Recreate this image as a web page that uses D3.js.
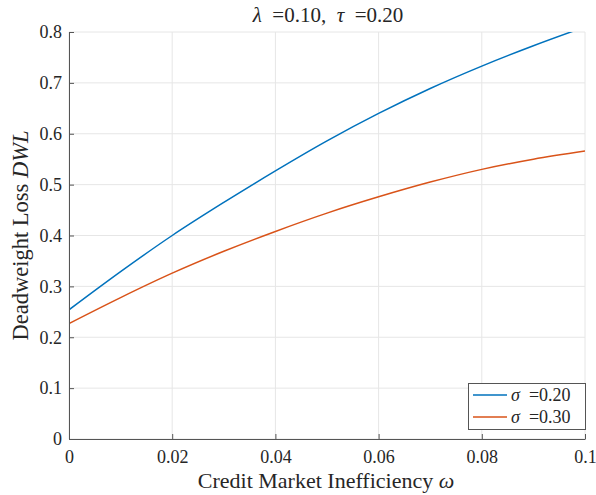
<!DOCTYPE html>
<html><head><meta charset="utf-8">
<script src="https://cdn.jsdelivr.net/npm/d3@7"></script>
<style>
body{margin:0;background:#fff;}
</style></head>
<body><svg id="c" width="596" height="495"></svg>
<script>
const omega = [0, 0.01, 0.02, 0.03, 0.04, 0.05, 0.06, 0.07, 0.08, 0.09, 0.1];
const dwlSigma20 = [0.254, 0.329, 0.400, 0.465, 0.527, 0.586, 0.640, 0.689, 0.733, 0.773, 0.81];
const dwlSigma30 = [0.227, 0.278, 0.326, 0.369, 0.408, 0.444, 0.476, 0.505, 0.530, 0.550, 0.566];
const seriesNames = ["0.20", "0.30"];
const seriesColors = ["#0072BD", "#D95319"];
const xTicks = [0, 0.02, 0.04, 0.06, 0.08, 0.1];
const xTickLabels = ["0", "0.02", "0.04", "0.06", "0.08", "0.1"];
const yTicks = [0, 0.1, 0.2, 0.3, 0.4, 0.5, 0.6, 0.7, 0.8];
const yTickLabels = ["0", "0.1", "0.2", "0.3", "0.4", "0.5", "0.6", "0.7", "0.8"];

const FONT = "Liberation Serif";
const TXT = "#262626";
const svg = d3.select("#c");
const L = 69, R = 585, T = 32, B = 439;
const x = d3.scaleLinear().domain([0, 0.1]).range([L, R]);
const y = d3.scaleLinear().domain([0, 0.8]).range([B, T]);

// grid
const g = svg.append("g");
g.selectAll(".gx").data(xTicks).enter().append("line")
  .attr("x1", d => x(d)).attr("x2", d => x(d)).attr("y1", T).attr("y2", B)
  .attr("stroke", "#e6e6e6").attr("stroke-width", 1);
g.selectAll(".gy").data(yTicks).enter().append("line")
  .attr("y1", d => y(d)).attr("y2", d => y(d)).attr("x1", L).attr("x2", R)
  .attr("stroke", "#e6e6e6").attr("stroke-width", 1);

// clip
svg.append("clipPath").attr("id", "clip").append("rect")
  .attr("x", L).attr("y", T).attr("width", R - L).attr("height", B - T);

const line = d3.line().x(d => x(d[0])).y(d => y(d[1])).curve(d3.curveMonotoneX);
[dwlSigma20, dwlSigma30].forEach((vals, i) => {
  svg.append("path").datum(omega.map((o, j) => [o, vals[j]]))
    .attr("d", line).attr("fill", "none").attr("stroke", seriesColors[i])
    .attr("stroke-width", 1.5).attr("clip-path", "url(#clip)");
});

// axes
const xAxis = d3.axisBottom(x).tickValues(xTicks).tickFormat((d, i) => xTickLabels[i])
  .tickSizeInner(-5).tickSizeOuter(0).tickPadding(11);
const yAxis = d3.axisLeft(y).tickValues(yTicks).tickFormat((d, i) => yTickLabels[i])
  .tickSizeInner(-5).tickSizeOuter(0).tickPadding(7);
const ax = svg.append("g").attr("transform", `translate(0,${B})`).call(xAxis);
const ay = svg.append("g").attr("transform", `translate(${L},0)`).call(yAxis);
[ax, ay].forEach(a => {
  a.attr("font-family", FONT).attr("font-size", 18);
  a.select(".domain").attr("stroke", "#555").attr("stroke-width", 1);
  a.selectAll(".tick line").attr("stroke", "#555");
  a.selectAll(".tick text").attr("fill", TXT);
});

// title
const title = svg.append("text").attr("x", 328).attr("y", 22).attr("text-anchor", "middle")
  .attr("font-family", FONT).attr("font-size", 21).attr("fill", TXT);
title.append("tspan").attr("font-style", "italic").text("λ");
title.append("tspan").text("\u2002=0.10,\u2002");
title.append("tspan").attr("font-style", "italic").text("τ");
title.append("tspan").text("\u2002=0.20");

// x label
const xl = svg.append("text").attr("x", 326).attr("y", 488).attr("text-anchor", "middle")
  .attr("font-family", FONT).attr("font-size", 22).attr("fill", TXT);
xl.append("tspan").text("Credit Market Inefficiency ");
xl.append("tspan").attr("font-style", "italic").text("ω");

// y label
const yl = svg.append("text").attr("transform", `translate(28,${(T + B) / 2}) rotate(-90)`)
  .attr("text-anchor", "middle").attr("font-family", FONT).attr("font-size", 22.5).attr("fill", TXT);
yl.append("tspan").text("Deadweight Loss ");
yl.append("tspan").attr("font-style", "italic").text("DWL");

// legend
const lg = svg.append("g");
lg.append("rect").attr("x", 468.5).attr("y", 383.5).attr("width", 117).attr("height", 46)
  .attr("fill", "#fff").attr("stroke", "#555").attr("stroke-width", 1);
seriesNames.forEach((n, i) => {
  const yy = 395 + i * 22;
  lg.append("line").attr("x1", 473).attr("x2", 507).attr("y1", yy).attr("y2", yy)
    .attr("stroke", seriesColors[i]).attr("stroke-width", 1.5);
  const t = lg.append("text").attr("x", 511).attr("y", yy + 6).attr("font-family", FONT)
    .attr("font-size", 18).attr("fill", TXT);
  t.append("tspan").attr("font-style", "italic").text("σ");
  t.append("tspan").text("\u2002=" + n);
});
</script></body></html>
